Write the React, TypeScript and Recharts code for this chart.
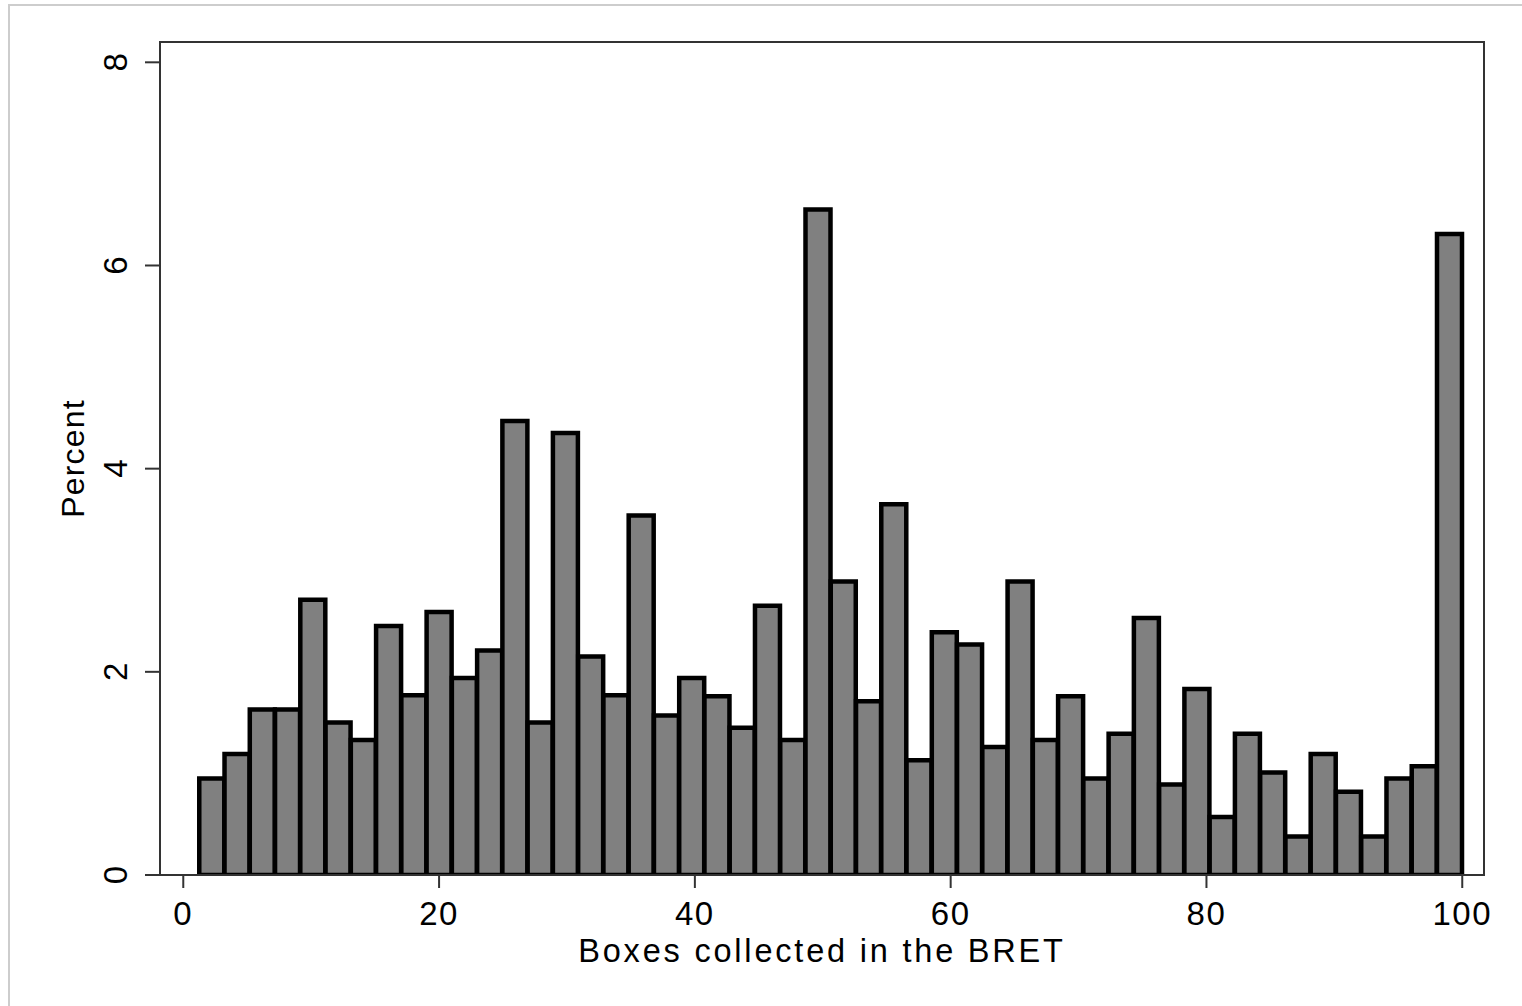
import React from 'react';
import { ComposedChart, Bar, XAxis, YAxis, Label, ReferenceArea } from 'recharts';

// Histogram of boxes collected (50 equal bins ending at 100)
const BIN_START = 1.25;
const BIN_WIDTH = 1.975;

const percentValues = [
  0.95, 1.19, 1.63, 1.63, 2.71, 1.5, 1.33, 2.45, 1.77, 2.59,
  1.94, 2.21, 4.47, 1.5, 4.35, 2.15, 1.77, 3.54, 1.57, 1.94,
  1.76, 1.45, 2.65, 1.33, 6.55, 2.89, 1.71, 3.65, 1.13, 2.39,
  2.27, 1.26, 2.89, 1.33, 1.76, 0.95, 1.39, 2.53, 0.89, 1.83,
  0.57, 1.39, 1.01, 0.38, 1.19, 0.82, 0.38, 0.95, 1.07, 6.31,
];

const xTicks = [0, 20, 40, 60, 80, 100];
const yTicks = [0, 2, 4, 6, 8];

const X_DOMAIN: [number, number] = [-1.82, 101.7];
const Y_DOMAIN: [number, number] = [0, 8.2];

const FONT = '"Liberation Sans", Arial, sans-serif';
const FRAME = '#333333';

const data = percentValues.map((percent, i) => ({
  mid: BIN_START + BIN_WIDTH * (i + 0.5),
  percent,
}));

function XTick({ x, y, payload }: any) {
  return (
    <text
      x={x}
      y={y + 37}
      textAnchor="middle"
      fontSize={33}
      fontFamily={FONT}
      letterSpacing={1.5}
      fill="#000"
    >
      {payload.value}
    </text>
  );
}

function YTick({ x, y, payload }: any) {
  const bx = x - 18;
  return (
    <text
      x={bx}
      y={y}
      textAnchor="middle"
      fontSize={33}
      fontFamily={FONT}
      fill="#000"
      transform={`rotate(-90, ${bx}, ${y})`}
    >
      {payload.value}
    </text>
  );
}

function XTitle({ viewBox }: any) {
  const cx = viewBox.x + viewBox.width / 2;
  return (
    <text
      x={cx}
      y={viewBox.y + 87}
      textAnchor="middle"
      fontSize={32.5}
      fontFamily={FONT}
      letterSpacing={2.8}
      fill="#000"
    >
      Boxes collected in the BRET
    </text>
  );
}

function YTitle({ viewBox }: any) {
  const bx = viewBox.x + 24;
  const cy = viewBox.y + viewBox.height / 2;
  return (
    <text
      x={bx}
      y={cy}
      textAnchor="middle"
      fontSize={32}
      fontFamily={FONT}
      letterSpacing={1.2}
      fill="#000"
      transform={`rotate(-90, ${bx}, ${cy})`}
    >
      Percent
    </text>
  );
}

export default function App() {
  return (
    <div
      style={{
        position: 'absolute',
        left: 0,
        top: 0,
        width: 1522,
        height: 1006,
        background: '#fff',
        overflow: 'hidden',
      }}
    >
      <div
        style={{
          position: 'absolute',
          left: 8,
          top: 4,
          width: 1700,
          height: 1200,
          border: '2px solid #cdcdcd',
        }}
      />
      <div style={{ position: 'absolute', left: 0, top: 0 }}>
        <ComposedChart
          width={1522}
          height={1006}
          data={data}
          margin={{ top: 42, right: 38, bottom: 31, left: 60 }}
          barCategoryGap={0}
          barGap={0}
        >
          <XAxis
            dataKey="mid"
            type="number"
            domain={X_DOMAIN}
            allowDataOverflow
            ticks={xTicks}
            interval={0}
            height={100}
            tickSize={13}
            tickMargin={0}
            axisLine={{ stroke: FRAME, strokeWidth: 2 }}
            tickLine={{ stroke: FRAME, strokeWidth: 2 }}
            tick={<XTick />}
          >
            <Label content={<XTitle />} />
          </XAxis>
          <YAxis
            type="number"
            domain={Y_DOMAIN}
            allowDataOverflow
            ticks={yTicks}
            interval={0}
            width={100}
            tickSize={15}
            tickMargin={0}
            axisLine={{ stroke: FRAME, strokeWidth: 2 }}
            tickLine={{ stroke: FRAME, strokeWidth: 2 }}
            tick={<YTick />}
          >
            <Label content={<YTitle />} />
          </YAxis>
          {/* plot region frame */}
          <ReferenceArea
            x1={X_DOMAIN[0]}
            x2={X_DOMAIN[1]}
            y1={Y_DOMAIN[0]}
            y2={Y_DOMAIN[1]}
            fill="none"
            fillOpacity={0}
            stroke={FRAME}
            strokeWidth={2}
            strokeOpacity={1}
            ifOverflow="visible"
          />
          <Bar
            dataKey="percent"
            fill="#808080"
            stroke="#000"
            strokeWidth={4.5}
            isAnimationActive={false}
          />
        </ComposedChart>
      </div>
    </div>
  );
}
